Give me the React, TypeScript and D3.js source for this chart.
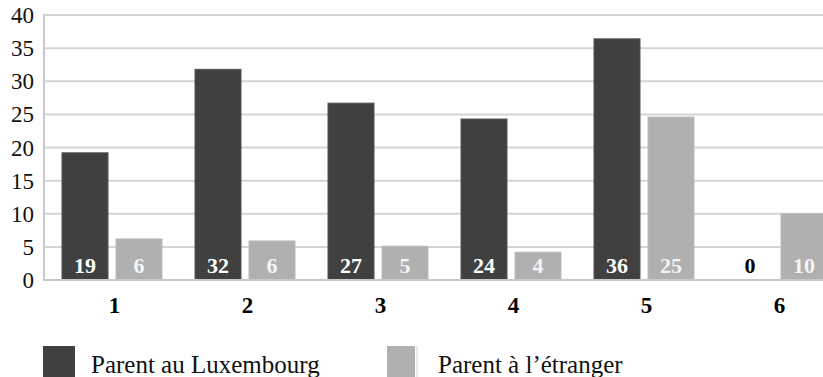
import React from "react";
import * as d3 from "d3";

const categories = ["1", "2", "3", "4", "5", "6"];
const seriesNames = ["Parent au Luxembourg", "Parent à l\u2019étranger"];
const luxValues = [19.2, 31.8, 26.7, 24.3, 36.4, 0];
const abroadValues = [6.2, 5.9, 5.1, 4.2, 24.6, 10];
const luxLabels = ["19", "32", "27", "24", "36", "0"];
const abroadLabels = ["6", "6", "5", "4", "25", "10"];
const yTicks = [0, 5, 10, 15, 20, 25, 30, 35, 40];

const W = 823;
const H = 377;
const DARK = "#404040";
const LIGHT = "#b0b0b0";
const FONT = "'Liberation Serif', 'Times New Roman', serif";

export default function App() {
  const x = d3.scaleBand<string>().domain(categories).range([44, 842]).paddingInner(0).paddingOuter(0);
  const y = d3.scaleLinear().domain([0, 40]).range([280, 15]);
  const step = x.step();
  const barW = 46;
  const gap = 8;
  const offDark = 18;
  const offLight = offDark + barW + gap;

  return (
    <svg width={W} height={H} style={{ position: "absolute", left: 0, top: 0, background: "#fff" }}>
      {yTicks.map((t) => (
        <g key={t}>
          <line x1={44} x2={W} y1={y(t)} y2={y(t)} stroke="#d4d4d4" strokeWidth={2} />
          <text x={34} y={y(t) + 8} textAnchor="end" fontFamily={FONT} fontSize={23} fill="#111">
            {t}
          </text>
        </g>
      ))}
      <line x1={44} x2={44} y1={y(40) - 1} y2={y(0) + 1} stroke="#c8c8c8" strokeWidth={2} />
      {categories.map((c, i) => {
        const x0 = x(c)!;
        const dv = luxValues[i];
        const lv = abroadValues[i];
        return (
          <g key={c}>
            {dv > 0 && (
              <rect x={x0 + offDark} y={y(dv)} width={barW} height={y(0) - y(dv)} fill={DARK} stroke="#555" strokeWidth={1} />
            )}
            <rect x={x0 + offLight} y={y(lv)} width={barW} height={y(0) - y(lv)} fill={LIGHT} stroke="#bcbcbc" strokeWidth={1} />
            <text x={x0 + offDark + barW / 2} y={273} textAnchor="middle" fontFamily={FONT} fontWeight="bold" fontSize={22} fill={dv > 0 ? "#fff" : "#000"}>
              {luxLabels[i]}
            </text>
            <text x={x0 + offLight + barW / 2} y={273} textAnchor="middle" fontFamily={FONT} fontWeight="bold" fontSize={22} fill="#f4f4f4">
              {abroadLabels[i]}
            </text>
            <text x={x0 + step / 2 + 4} y={313} textAnchor="middle" fontFamily={FONT} fontWeight="bold" fontSize={23} fill="#000">
              {c}
            </text>
          </g>
        );
      })}
      <line x1={44} x2={W} y1={y(0)} y2={y(0)} stroke="#c8c8c8" strokeWidth={2} />
      <rect x={43} y={346} width={32} height={40} fill={DARK} />
      <text x={91} y={373} fontFamily={FONT} fontSize={25} fill="#111">{seriesNames[0]}</text>
      <rect x={387} y={346} width={28} height={40} fill={LIGHT} />
      <line x1={417} x2={417} y1={346} y2={H} stroke="#d0d0d0" strokeWidth={1} />
      <text x={438} y={373} fontFamily={FONT} fontSize={25} fill="#111">{seriesNames[1]}</text>
    </svg>
  );
}
